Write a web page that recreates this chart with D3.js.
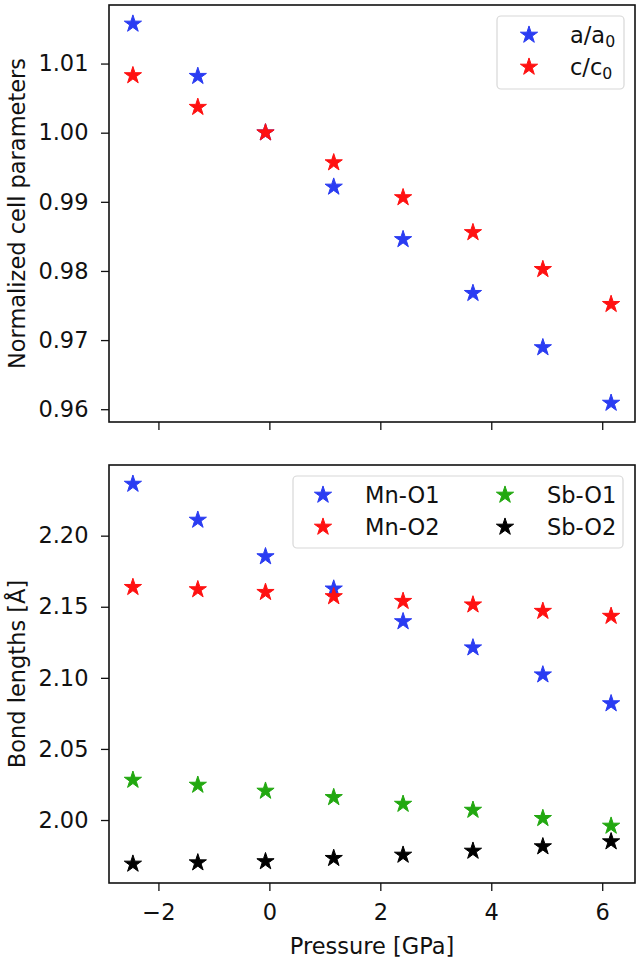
<!DOCTYPE html>
<html>
<head>
<meta charset="utf-8">
<script src="https://cdn.jsdelivr.net/npm/d3@7"></script>
<style>
  html, body { margin: 0; padding: 0; background: #fff; }
  svg { display: block; font-family: "DejaVu Sans", sans-serif; }
</style>
</head>
<body>
<svg id="chart" width="640" height="962"></svg>
<script>
// ---- Data ----
const pressure = [-2.46, -1.29, -0.07, 1.16, 2.41, 3.67, 4.93, 6.16];
const aRatio = [1.01573, 1.00817, 1.0000, 0.99215, 0.98456, 0.97677, 0.96892, 0.96089];
const cRatio = [1.00827, 1.00369, 1.0000, 0.99567, 0.99062, 0.98557, 0.98023, 0.97518];
const mnO1 = [2.2363, 2.2110, 2.1853, 2.1626, 2.1396, 2.1212, 2.1022, 2.0819];
const mnO2 = [2.1637, 2.1621, 2.1602, 2.1572, 2.1539, 2.1514, 2.1469, 2.1434];
const sbO1 = [2.0281, 2.0246, 2.0204, 2.0159, 2.0112, 2.0070, 2.0012, 1.9958];
const sbO2 = [1.9691, 1.9700, 1.9708, 1.9731, 1.9754, 1.9782, 1.9813, 1.9848];
const xTicks = [-2, 0, 2, 4, 6];
const yTicksTop = [0.96, 0.97, 0.98, 0.99, 1.00, 1.01];
const yTicksBottom = [2.00, 2.05, 2.10, 2.15, 2.20];

const topSeries = [
  {name: "a", sub: "0", pre: "a/a", values: aRatio, color: "#2a3cf2"},
  {name: "c", sub: "0", pre: "c/c", values: cRatio, color: "#ff1111"}
];
const bottomSeries = [
  {label: "Mn-O1", values: mnO1, color: "#2a3cf2"},
  {label: "Mn-O2", values: mnO2, color: "#ff1111"},
  {label: "Sb-O1", values: sbO1, color: "#22a810"},
  {label: "Sb-O2", values: sbO2, color: "#000000"}
];

// ---- Layout ----
const svg = d3.select("#chart");
const left = 109, right = 635;
const topPanel = {y0: 5, y1: 422};
const botPanel = {y0: 465, y1: 883};
const FS = 22.5;
const tickLen = 8;
const star = d3.symbol().type(d3.symbolStar).size(92);

const x = d3.scaleLinear().domain([-2.891, 6.591]).range([left, right]);
const yTop = d3.scaleLinear().domain([0.95815, 1.01847]).range([topPanel.y1, topPanel.y0]);
const yBot = d3.scaleLinear().domain([1.9557, 2.2497]).range([botPanel.y1, botPanel.y0]);

function styleAxis(g) {
  g.select(".domain").remove();
  g.selectAll(".tick line").attr("stroke", "#111").attr("stroke-width", 1.3);
  g.selectAll(".tick text").attr("fill", "#111").attr("font-size", FS).attr("font-family", "DejaVu Sans");
}

function drawPanel(p, y, yTicks, yFmt, showXLabels) {
  const g = svg.append("g");
  // y axis
  g.append("g").attr("transform", `translate(${left},0)`)
    .call(d3.axisLeft(y).tickValues(yTicks).tickFormat(yFmt).tickSize(tickLen).tickPadding(12.5))
    .call(styleAxis);
  // x axis
  const xa = g.append("g").attr("transform", `translate(0,${p.y1})`)
    .call(d3.axisBottom(x).tickValues(xTicks)
      .tickFormat(showXLabels ? (d => d < 0 ? "\u2212" + Math.abs(d) : String(d)) : () => "")
      .tickSize(tickLen).tickPadding(13))
    .call(styleAxis);
  // frame
  g.append("rect").attr("x", left).attr("y", p.y0).attr("width", right - left).attr("height", p.y1 - p.y0)
    .attr("fill", "none").attr("stroke", "#111").attr("stroke-width", 1.6);
  return g;
}

// ---- Top panel ----
const gTop = drawPanel(topPanel, yTop, yTicksTop, d3.format(".2f"), false);
topSeries.forEach(s => {
  gTop.append("g").selectAll("path").data(s.values).join("path")
    .attr("d", star)
    .attr("transform", (d, i) => `translate(${x(pressure[i])},${yTop(d)})`)
    .attr("fill", s.color).attr("stroke", s.color).attr("stroke-width", 1).attr("stroke-linejoin", "round");
});

// ---- Bottom panel ----
const gBot = drawPanel(botPanel, yBot, yTicksBottom, d3.format(".2f"), true);
bottomSeries.forEach(s => {
  gBot.append("g").selectAll("path").data(s.values).join("path")
    .attr("d", star)
    .attr("transform", (d, i) => `translate(${x(pressure[i])},${yBot(d)})`)
    .attr("fill", s.color).attr("stroke", s.color).attr("stroke-width", 1).attr("stroke-linejoin", "round");
});

// ---- Axis labels ----
svg.append("text").attr("transform", `translate(25,${(topPanel.y0 + topPanel.y1) / 2}) rotate(-90)`)
  .attr("text-anchor", "middle").attr("font-size", FS).attr("fill", "#111")
  .text("Normalized cell parameters");
svg.append("text").attr("transform", `translate(25,${(botPanel.y0 + botPanel.y1) / 2}) rotate(-90)`)
  .attr("text-anchor", "middle").attr("font-size", FS).attr("fill", "#111")
  .text("Bond lengths [Å]");
svg.append("text").attr("x", (left + right) / 2).attr("y", 954)
  .attr("text-anchor", "middle").attr("font-size", FS).attr("fill", "#111")
  .text("Pressure [GPa]");

// ---- Legends ----
const lg1 = svg.append("g");
lg1.append("rect").attr("x", 497).attr("y", 16).attr("width", 127).attr("height", 73)
  .attr("rx", 4).attr("fill", "#fff").attr("fill-opacity", 0.8).attr("stroke", "#d8d8d8").attr("stroke-width", 1.2);
topSeries.forEach((s, i) => {
  const yy = 35 + i * 32;
  lg1.append("path").attr("d", star).attr("transform", `translate(529,${yy})`)
    .attr("fill", s.color).attr("stroke", s.color).attr("stroke-width", 1).attr("stroke-linejoin", "round");
  const t = lg1.append("text").attr("x", 570).attr("y", yy).attr("dy", "0.35em")
    .attr("font-size", FS).attr("fill", "#111");
  t.append("tspan").text(s.pre);
  t.append("tspan").attr("font-size", FS * 0.7).attr("dy", "0.25em").text(s.sub);
});

const lg2 = svg.append("g");
lg2.append("rect").attr("x", 293).attr("y", 476).attr("width", 330).attr("height", 72)
  .attr("rx", 4).attr("fill", "#fff").attr("fill-opacity", 0.8).attr("stroke", "#d8d8d8").attr("stroke-width", 1.2);
bottomSeries.forEach((s, i) => {
  const col = Math.floor(i / 2), row = i % 2;
  const mx = col === 0 ? 323 : 505;
  const tx = col === 0 ? 365 : 547;
  const yy = 495 + row * 32;
  lg2.append("path").attr("d", star).attr("transform", `translate(${mx},${yy})`)
    .attr("fill", s.color).attr("stroke", s.color).attr("stroke-width", 1).attr("stroke-linejoin", "round");
  lg2.append("text").attr("x", tx).attr("y", yy).attr("dy", "0.35em")
    .attr("font-size", FS).attr("fill", "#111").text(s.label);
});
</script>
</body>
</html>
